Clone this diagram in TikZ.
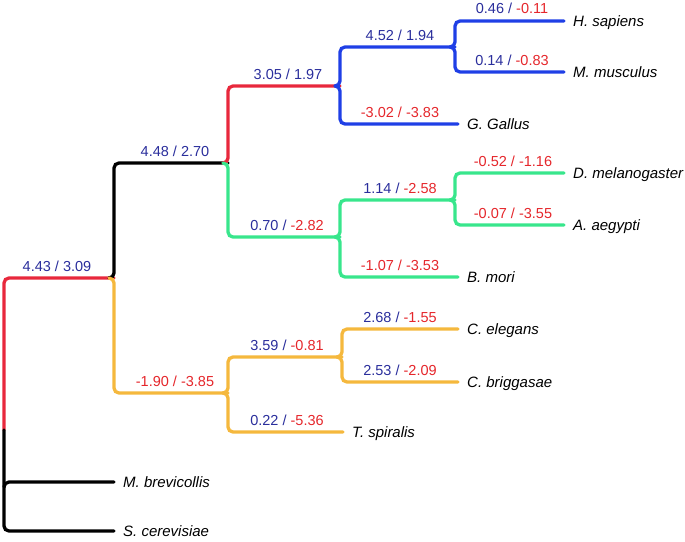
\documentclass[tikz,border=0pt]{standalone}
\usepackage{fontspec}
\setmainfont{Liberation Sans}
\definecolor{lblue}{HTML}{2A2E9C}
\definecolor{lred}{HTML}{E5262B}
\definecolor{bred}{HTML}{E8283C}
\definecolor{bblue}{HTML}{1F3FE6}
\definecolor{bgreen}{HTML}{38E68C}
\definecolor{byellow}{HTML}{F5B83D}
\tikzset{
  br/.style={line width=3.3pt, rounded corners=5pt, line cap=round},
  lab/.style={anchor=base, inner sep=0pt, font=\fontsize{14.5}{16}\selectfont},
  sp/.style={anchor=base west, inner sep=0pt, font=\fontsize{15}{17}\selectfont\itshape},
}
\newcommand{\bb}[2]{\textcolor{lblue}{#1 / #2}}
\newcommand{\br}[2]{\textcolor{lblue}{#1 /} \textcolor{lred}{#2}}
\newcommand{\rr}[2]{\textcolor{lred}{#1 / #2}}
\begin{document}
\begin{tikzpicture}[x=1pt,y=-1pt]
\useasboundingbox (0,0) rectangle (685,541);
% junction coordinates
\coordinate (root) at (4,430);
\coordinate (n1) at (114,278);
\coordinate (n2) at (228,163);
\coordinate (n3) at (340,86);
\coordinate (n4) at (455,47);
\coordinate (n6) at (340,237);
\coordinate (n5) at (455,200);
\coordinate (n7) at (228,393);
\coordinate (n8) at (342,357);
% leaf ends
\coordinate (lhs) at (564,21);
\coordinate (lmm) at (564,72);
\coordinate (lgg) at (458,124);
\coordinate (ldm) at (564,173);
\coordinate (laa) at (564,225);
\coordinate (lbm) at (458,277);
\coordinate (lce) at (458,329);
\coordinate (lcb) at (458,382);
\coordinate (lts) at (343,432);
\coordinate (lmb) at (114,482);
\coordinate (lsc) at (114,531);
\coordinate (mb) at (4,482);

% root branches
\draw[br, bred] (n1) -| (root);
\draw[br, black] (root) |- (lsc);
\draw[br, black] ([yshift=-5pt]mb) -- (mb) -- (lmb);
% n1 children
\draw[br, black] ([xshift=-5pt]n1) -- (n1) |- (n2);
\draw[br, byellow] ([xshift=-5pt]n1) -- (n1) |- (n7);
% n2 children
\draw[br, bred] ([xshift=-5pt]n2) -- (n2) |- (n3);
\draw[br, bgreen] ([xshift=-5pt]n2) -- (n2) |- (n6);
% n3 children
\draw[br, bblue] ([xshift=-5pt]n3) -- (n3) |- (n4);
\draw[br, bblue] ([xshift=-5pt]n3) -- (n3) |- (lgg);
% n4 children
\draw[br, bblue] ([xshift=-5pt]n4) -- (n4) |- (lhs);
\draw[br, bblue] ([xshift=-5pt]n4) -- (n4) |- (lmm);
% n6 children
\draw[br, bgreen] ([xshift=-5pt]n6) -- (n6) |- (n5);
\draw[br, bgreen] ([xshift=-5pt]n6) -- (n6) |- (lbm);
% n5 children
\draw[br, bgreen] ([xshift=-5pt]n5) -- (n5) |- (ldm);
\draw[br, bgreen] ([xshift=-5pt]n5) -- (n5) |- (laa);
% n7 children
\draw[br, byellow] ([xshift=-5pt]n7) -- (n7) |- (n8);
\draw[br, byellow] ([xshift=-5pt]n7) -- (n7) |- (lts);
% n8 children
\draw[br, byellow] ([xshift=-5pt]n8) -- (n8) |- (lce);
\draw[br, byellow] ([xshift=-5pt]n8) -- (n8) |- (lcb);

% branch labels
\node[lab] (t1) at (57,271) {\bb{4.43}{3.09}};
\node[lab] (t2) at (175,156) {\bb{4.48}{2.70}};
\node[lab] (t3) at (288,79) {\bb{3.05}{1.97}};
\node[lab] (t4) at (287,230) {\br{0.70}{-2.82}};
\node[lab] (t5) at (400,40) {\bb{4.52}{1.94}};
\node[lab] (t6) at (400,117) {\rr{-3.02}{-3.83}};
\node[lab] (t7) at (512,13) {\br{0.46}{-0.11}};
\node[lab] (t8) at (512,65) {\br{0.14}{-0.83}};
\node[lab] (t9) at (400,193) {\br{1.14}{-2.58}};
\node[lab] (t10) at (513,166) {\rr{-0.52}{-1.16}};
\node[lab] (t11) at (513,218) {\rr{-0.07}{-3.55}};
\node[lab] (t12) at (400,270) {\rr{-1.07}{-3.53}};
\node[lab] (t13) at (175,386) {\rr{-1.90}{-3.85}};
\node[lab] (t14) at (287,350) {\br{3.59}{-0.81}};
\node[lab] (t15) at (287,425) {\br{0.22}{-5.36}};
\node[lab] (t16) at (400,322) {\br{2.68}{-1.55}};
\node[lab] (t17) at (400,375) {\br{2.53}{-2.09}};

% species names
\node[sp] (s1) at ([shift={(9,5)}]lhs) {H. sapiens};
\node[sp] (s2) at ([shift={(9,5)}]lmm) {M. musculus};
\node[sp] (s3) at ([shift={(9,5)}]lgg) {G. Gallus};
\node[sp] (s4) at ([shift={(9,5)}]ldm) {D. melanogaster};
\node[sp] (s5) at ([shift={(9,5)}]laa) {A. aegypti};
\node[sp] (s6) at ([shift={(9,5)}]lbm) {B. mori};
\node[sp] (s7) at ([shift={(9,5)}]lce) {C. elegans};
\node[sp] (s8) at ([shift={(9,5)}]lcb) {C. briggasae};
\node[sp] (s9) at ([shift={(9,5)}]lts) {T. spiralis};
\node[sp] (s10) at ([shift={(9,5)}]lmb) {M. brevicollis};
\node[sp] (s11) at ([shift={(9,5)}]lsc) {S. cerevisiae};
\end{tikzpicture}
\end{document}
